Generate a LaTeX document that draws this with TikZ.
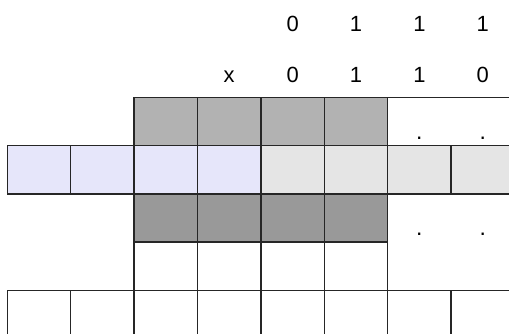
\documentclass[tikz,border=0pt]{standalone}
\usepackage{fontspec}
\setmainfont{Liberation Sans}
\usetikzlibrary{positioning}

\begin{document}
\begin{tikzpicture}[
  x=1.268cm, y=0.966cm,
  font=\fontsize{12.5}{15}\selectfont,
  cell/.style={draw=black!85,line width=0.85pt,minimum width=1.268cm,minimum height=0.966cm,inner sep=0pt,outer sep=0pt},
  upper/.style={cell,fill=black!30},
  lower/.style={cell,fill=black!40},
  inreg/.style={cell,fill={rgb,255:red,230;green,230;blue,250}},
  outreg/.style={cell,fill=black!10},
  empty/.style={cell,fill=white},
  bit/.style={anchor=base,inner sep=0pt},
  dot/.style={inner sep=0pt,font=\fontsize{13}{15}\selectfont}
]
\clip (-0.115,-4.88) rectangle (7.913,2.014);
% bits over the columns
\foreach \i/\b in {4/0,5/1,6/1,7/1} \node[bit] (p\i) at (\i+0.5,1.358) {\b};
\node[bit] (q3) at (3.5,0.302) {x};
\foreach \i/\b in {4/0,5/1,6/1,7/0} \node[bit] (q\i) at (\i+0.5,0.302) {\b};
% register rows
\foreach \i in {2,...,5} \node[upper] (a\i) at (\i+0.5,-0.5) {};
\foreach \i in {0,...,3} \node[inreg] (b\i) at (\i+0.5,-1.5) {};
\foreach \i in {4,...,7} \node[outreg] (b\i) at (\i+0.5,-1.5) {};
\foreach \i in {2,...,5} \node[lower] (c\i) at (\i+0.5,-2.5) {};
\foreach \i in {2,...,5} \node[empty] (d\i) at (\i+0.5,-3.5) {};
\foreach \i in {0,...,7} \node[empty] (e\i) at (\i+0.5,-4.5) {};
\coordinate (tr) at (8,0);
\draw[draw=black!85,line width=0.85pt] (a5.north east) -- (tr);
% dots
\foreach \i in {6,7} {
  \node[dot] (u\i) at (\i+0.5,-0.85) {.};
  \node[dot] (v\i) at (\i+0.5,-2.84) {.};
}
\end{tikzpicture}
\end{document}
